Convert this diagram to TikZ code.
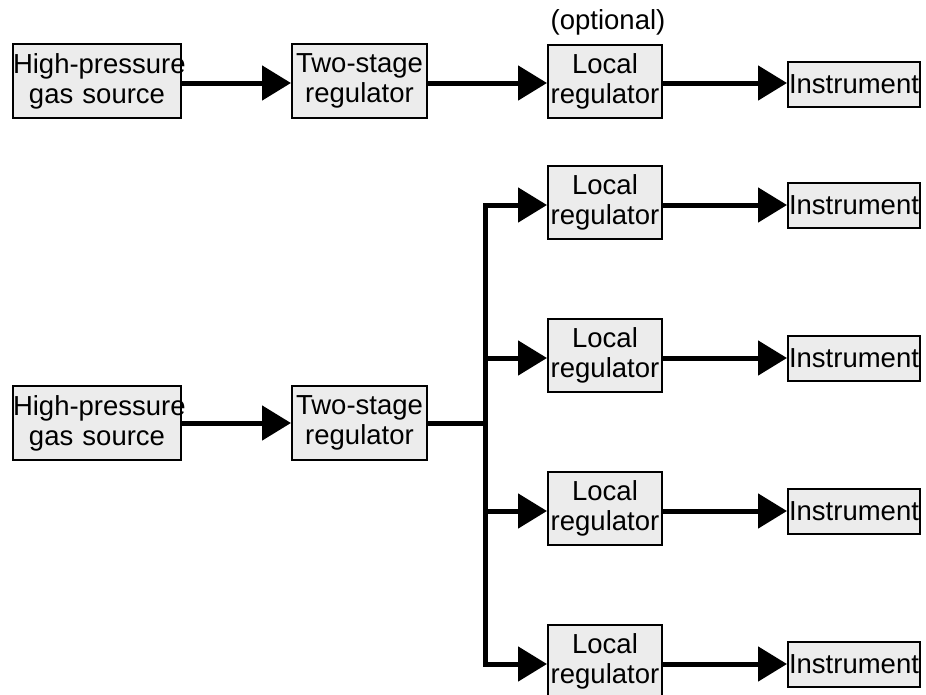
\documentclass[tikz,border=0pt]{standalone}
\usepackage{fontspec}
\setmainfont{Liberation Sans}
\usetikzlibrary{arrows.meta,positioning}

\tikzset{
	block/.style={draw=black, line width=2pt, fill=gray!15, inner sep=0pt, align=center, font=\fontsize{27.5}{30}\selectfont},
	srcbox/.style={block, text width=168pt, minimum height=74pt},
	regbox/.style={block, text width=135pt, minimum height=74pt},
	localbox/.style={block, text width=114pt, minimum height=73pt},
	insbox/.style={block, text width=132pt, minimum height=45pt},
	pipe/.style={line width=5pt},
	feed/.style={pipe, -{Triangle[length=29pt,width=34pt]}},
}

\begin{document}
\begin{tikzpicture}[x=1pt,y=-1pt]
		\useasboundingbox (0,0) rectangle (926,694);

		% Single line: source, regulator, optional local regulator, instrument
		\node[srcbox] (src) at (97,81) {\mbox{High-pressure}\\gas source};
		\node[regbox] (reg) at (359.5,81) {\mbox{Two-stage}\\regulator};
		\node[localbox] (loc) at (605,81) {Local\\\mbox{regulator}};
		\node[insbox] (ins) at (854,84) {\mbox{Instrument}};
		\node[font=\fontsize{27.5}{30}\selectfont, inner sep=0pt] (opt) at (608,22) {(optional)};

		\draw[feed] (src.east |- 0,83) -- (reg.west |- 0,83);
		\draw[feed] (reg.east |- 0,83) -- (loc.west |- 0,83);
		\draw[feed] (loc.east |- 0,83) -- (ins.west |- 0,83);

		% Distribution: one regulator feeding four local regulators
		\node[srcbox] (src2) at (97,423) {\mbox{High-pressure}\\gas source};
		\node[regbox] (reg2) at (359.5,423) {\mbox{Two-stage}\\regulator};
		\coordinate (trunk) at (485,423);
		\draw[feed] (src2) -- (reg2);
		\draw[pipe] (reg2) -- (trunk);

		\foreach \i/\y in {1/205,2/358,3/511,4/664} {
			\node[localbox] (loc\i) at (605,\y-3) {Local\\\mbox{regulator}};
			\node[insbox] (ins\i) at (854,\y) {\mbox{Instrument}};
			\draw[feed] (trunk |- ins\i) -- (loc\i.west |- ins\i);
			\draw[feed] (loc\i.east |- ins\i) -- (ins\i);
		}

		% Vertical header
		\draw[pipe, line cap=rect] (trunk |- ins1) -- (trunk |- ins4);
	\end{tikzpicture}
\end{document}
